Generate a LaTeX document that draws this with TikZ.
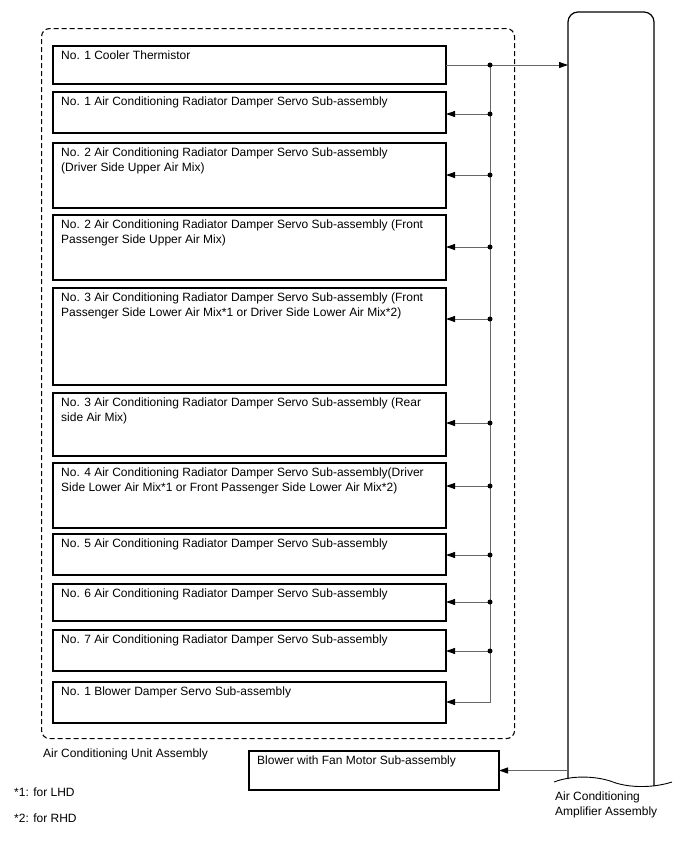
\documentclass[tikz,border=0pt]{standalone}
\usepackage{fontspec}
\setmainfont{Liberation Sans}
\usetikzlibrary{arrows.meta,positioning,calc}

\tikzset{
  part/.style={rectangle, draw, line width=1.2pt, minimum width=393pt, inner sep=0pt, outer sep=0pt},
  parttext/.style={anchor=north west, inner sep=0pt, align=left, xshift=8pt, yshift=-5pt},
  wire/.style={draw=black!60, line width=0.9pt, -{Triangle[length=9pt,width=6pt,color=black]}},
  caption/.style={anchor=base west, inner sep=0pt, align=left}
}

\begin{document}
\begin{tikzpicture}[x=1pt, y=-1pt, font=\fontsize{12}{14.5}\selectfont]
  \useasboundingbox (0,0) rectangle (688,852);
  % unit frame
  \node[draw, dash pattern=on 5pt off 3pt, line width=1.1pt, rounded corners=8pt, minimum width=473pt, minimum height=710pt, inner sep=0pt, anchor=north west] (unit) at (41,28) {};
  \node[caption] (unitname) at (43,757) {Air Conditioning Unit Assembly};

  % parts inside the unit
  \node[part, minimum height=38pt, anchor=north west, label={[parttext]north west:No. 1 Cooler Thermistor}] (box1) at (53,46) {};
  \node[part, minimum height=41pt, below=8pt of box1, label={[parttext]north west:No. 1 Air Conditioning Radiator Damper Servo Sub-assembly}] (box2) {};
  \node[part, minimum height=65pt, below=10pt of box2, label={[parttext]north west:{No. 2 Air Conditioning Radiator Damper Servo Sub-assembly\\(Driver Side Upper Air Mix)}}] (box3) {};
  \node[part, minimum height=65pt, below=7pt of box3, label={[parttext]north west:{No. 2 Air Conditioning Radiator Damper Servo Sub-assembly (Front\\Passenger Side Upper Air Mix)}}] (box4) {};
  \node[part, minimum height=97pt, below=8pt of box4, label={[parttext]north west:{No. 3 Air Conditioning Radiator Damper Servo Sub-assembly (Front\\Passenger Side Lower Air Mix*1 or Driver Side Lower Air Mix*2)}}] (box5) {};
  \node[part, minimum height=63pt, below=8pt of box5, label={[parttext]north west:{No. 3 Air Conditioning Radiator Damper Servo Sub-assembly (Rear\\side Air Mix)}}] (box6) {};
  \node[part, minimum height=65pt, below=7pt of box6, label={[parttext]north west:{No. 4 Air Conditioning Radiator Damper Servo Sub-assembly(Driver\\Side Lower Air Mix*1 or Front Passenger Side Lower Air Mix*2)}}] (box7) {};
  \node[part, minimum height=41pt, below=6pt of box7, label={[parttext]north west:No. 5 Air Conditioning Radiator Damper Servo Sub-assembly}] (box8) {};
  \node[part, minimum height=37pt, below=9pt of box8, label={[parttext]north west:No. 6 Air Conditioning Radiator Damper Servo Sub-assembly}] (box9) {};
  \node[part, minimum height=41pt, below=9pt of box9, label={[parttext]north west:No. 7 Air Conditioning Radiator Damper Servo Sub-assembly}] (box10) {};
  \node[part, minimum height=41pt, below=11pt of box10, label={[parttext]north west:No. 1 Blower Damper Servo Sub-assembly}] (box11) {};

  % blower
  \node[part, minimum width=250pt, minimum height=39pt, anchor=north west, label={[parttext]north west:Blower with Fan Motor Sub-assembly}] (blower) at (249,751) {};

  % amplifier
  \draw[line width=1.2pt, rounded corners=10pt] (568,779) -- (568,12) -- (654,12) -- (654,786);
  \draw[line width=0.9pt] (554,782) .. controls (575,774) and (600,777) .. (613,782) .. controls (626,787) and (650,789) .. (672,782);
  \node[caption, anchor=north west] (ampname) at (555,792) {Air Conditioning\\Amplifier Assembly};
  \coordinate (amp) at (568,0);
  \coordinate (bus) at (490,0);

  % notes
  \node[caption] (note1) at (14,796) {*1: for LHD};
  \node[caption] (note2) at (14,822) {*2: for RHD};

  % wiring
  \draw[wire] (box1.east) -- (box1.east -| amp);
  \foreach \n/\dy in {2/22, 3/32, 4/32, 5/31, 6/30, 7/23, 8/21, 9/18, 10/21, 11/20}
    \coordinate (tip\n) at ($(box\n.north east)+(0,\dy)$);
  \draw[wire] (bus |- box1.east) -- (bus |- tip11) -- (tip11);
  \fill (bus |- box1.east) circle (2.5pt);
  \foreach \n in {2,...,10} {
    \draw[wire] (bus |- tip\n) -- (tip\n);
    \fill (bus |- tip\n) circle (2.5pt);
  }
  \draw[wire] (blower.east -| amp) -- (blower.east);
\end{tikzpicture}
\end{document}
